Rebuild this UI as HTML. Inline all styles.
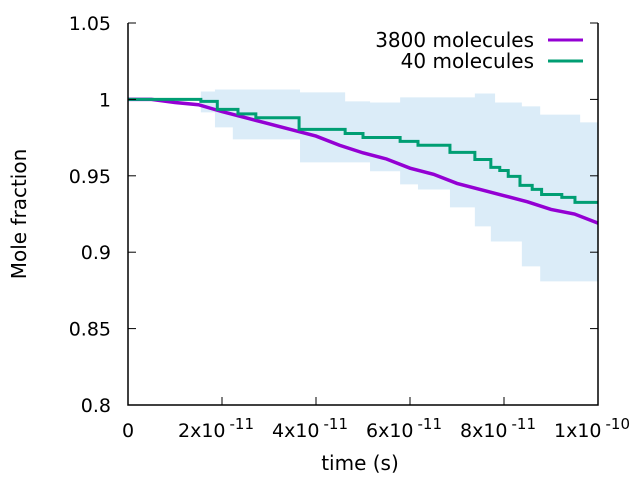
<!DOCTYPE html>
<html><head><meta charset="utf-8"><style>
body{margin:0;background:#fff}
svg text{font-family:"DejaVu Sans","Liberation Sans",sans-serif;fill:#000}
</style></head><body>
<svg width="640" height="480" viewBox="0 0 640 480">
<g id="band"></g>
<g id="lines"></g>
<g id="axes"></g>
<g>
<text x="534" y="47" font-size="20" text-anchor="end">3800 molecules</text>
<line x1="548" y1="40" x2="583" y2="40" stroke="#9400d3" stroke-width="3"/>
<text x="534" y="68" font-size="20" text-anchor="end">40 molecules</text>
<line x1="548" y1="61" x2="583" y2="61" stroke="#009e73" stroke-width="3"/>
</g>
<text x="360" y="470" font-size="20" text-anchor="middle">time (s)</text>
<text transform="translate(26,214) rotate(-90)" font-size="20" text-anchor="middle">Mole fraction</text>
</svg>
<script>
// time in units of 1e-12 s
const bandT=[15.5,18.5,22.3,36.6,46.2,51.5,57.9,61.7,68.5,73.8,77.2,78.1,83.8,87.7,96.2];
const bandUpper=[1.0052,1.0065,1.0065,1.0046,0.9987,0.998,1.0013,1.0013,1.0013,1.0039,1.0039,0.998,0.9954,0.990,0.985];
const bandLower=[0.9915,0.9817,0.9738,0.9588,0.9588,0.953,0.9444,0.941,0.9293,0.9169,0.907,0.907,0.8907,0.8809,0.8809];
const greenT=[0,15.5,19,23.4,27.2,36.4,46.2,50,57.9,61.7,68.5,73.8,77.2,79.1,80.9,83.4,86,88,92.3,95.1];
const greenV=[1,0.9987,0.9935,0.9905,0.988,0.9804,0.9777,0.9751,0.9725,0.970,0.9653,0.9607,0.9555,0.9535,0.9496,0.9437,0.9411,0.9378,0.9359,0.9326];
const purpleT=[0,5,10,15,20,25,30,35,40,45,50,55,60,65,70,75,80,85,90,95,100];
const purpleV=[1,1,0.998,0.9965,0.992,0.988,0.984,0.980,0.976,0.970,0.965,0.961,0.955,0.951,0.945,0.941,0.937,0.933,0.928,0.925,0.919];
const yTicks=["0.8","0.85","0.9","0.95","1","1.05"];
const xTicks=[0,20,40,60,80,100];
const xTickLabels=["0","2x10","4x10","6x10","8x10","1x10"];
const xTickExp=["","-11","-11","-11","-11","-10"];
const X0=128,X1=598,Y0=405,Y1=23,TMAX=100,VMIN=0.8,VMAX=1.05;
const sx=t=>X0+(t/TMAX)*(X1-X0);
const sy=v=>Y0-(v-VMIN)/(VMAX-VMIN)*(Y0-Y1);
const NS="http://www.w3.org/2000/svg";
function mk(tag,attrs,parent){const e=document.createElementNS(NS,tag);for(const k in attrs)e.setAttribute(k,attrs[k]);parent.appendChild(e);return e;}
let up="",lo="";
for(let i=0;i<bandT.length;i++){const t2=i+1<bandT.length?bandT[i+1]:TMAX;
 up+=`${sx(bandT[i])},${sy(bandUpper[i])} ${sx(t2)},${sy(bandUpper[i])} `;
 lo=`${sx(t2)},${sy(bandLower[i])} ${sx(bandT[i])},${sy(bandLower[i])} `+lo;}
const band=mk("polygon",{points:up+lo,fill:"#dbecf8"},document.getElementById("band"));


function stepPath(T,V){let d=`M${sx(T[0])},${sy(V[0])}`;for(let i=1;i<T.length;i++){d+=` H${sx(T[i])} V${sy(V[i])}`;}d+=` H${sx(TMAX)}`;return d;}
function linePath(T,V){return "M"+T.map((t,i)=>`${sx(t)},${sy(V[i])}`).join(" L");}
const L=document.getElementById("lines");
const pl=mk("path",{d:linePath(purpleT,purpleV),fill:"none",stroke:"#9400d3","stroke-width":3.5},L);


const gl=mk("path",{d:stepPath(greenT,greenV),fill:"none",stroke:"#009e73","stroke-width":3},L);


const A=document.getElementById("axes");
mk("path",{d:`M${X0},${Y1} V${Y0} H${X1} V${Y1}`,fill:"none",stroke:"#000","stroke-width":1.5},A);
yTicks.forEach(s=>{const y=sy(parseFloat(s));
 mk("line",{x1:X0,y1:y,x2:X0+8,y2:y,stroke:"#000"},A);
 mk("line",{x1:X1,y1:y,x2:X1-8,y2:y,stroke:"#000"},A);
 const t=mk("text",{x:X0-17,y:y+7,"font-size":19,"text-anchor":"end"},A);t.textContent=s;
 
 });
xTicks.forEach((v,i)=>{const x=sx(v);
 mk("line",{x1:x,y1:Y0,x2:x,y2:Y0-8,stroke:"#000"},A);
 const t=mk("text",{x:x,y:Y0+32,"font-size":19,"text-anchor":xTickExp[i]?"start":"middle"},A);
 
 
 if(xTickExp[i]){t.setAttribute("x",x-44);t.textContent=xTickLabels[i];
  const s=mk("tspan",{dx:4,dy:-8,"font-size":15},t);s.textContent=xTickExp[i];}
 else t.textContent=xTickLabels[i];});
</script>
</body></html>
